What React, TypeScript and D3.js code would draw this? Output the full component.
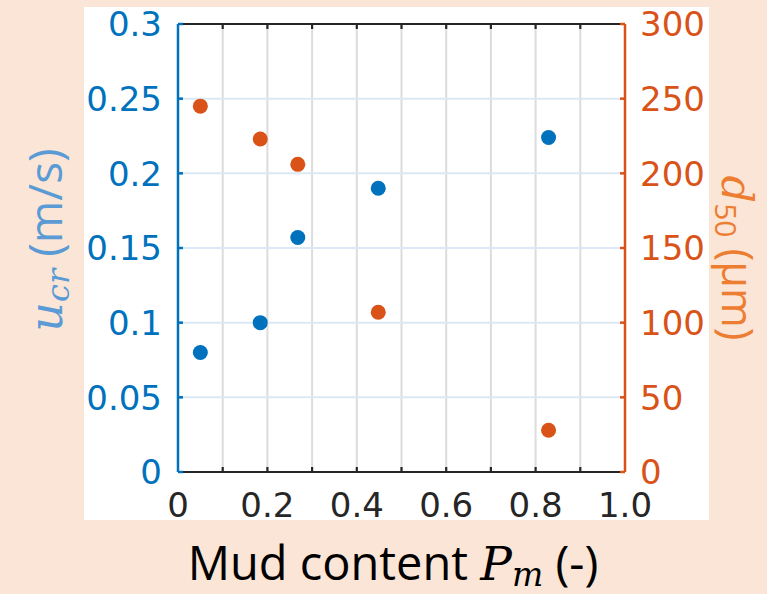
import React from "react";
import * as d3 from "d3";

const mudContent = [0.05, 0.184, 0.268, 0.448, 0.829];
const uCr = [0.08, 0.1, 0.157, 0.19, 0.224];
const d50 = [245, 223, 206, 107, 28];

const xTicks = [0, 0.2, 0.4, 0.6, 0.8, 1.0];
const xTickLabels = ["0", "0.2", "0.4", "0.6", "0.8", "1.0"];
const xMinor = d3.range(0, 11).map((i) => i / 10);
const leftTicks = [0, 0.05, 0.1, 0.15, 0.2, 0.25, 0.3];
const leftTickLabels = ["0", "0.05", "0.1", "0.15", "0.2", "0.25", "0.3"];
const rightTicks = [0, 50, 100, 150, 200, 250, 300];

const W = 767;
const H = 594;
const M = { left: 178, right: 625, top: 24, bottom: 472 };

const BLUE = "#0072BD";
const ORANGE = "#D95319";
const TICK_FONT = "'DejaVu Sans', sans-serif";

export default function App() {
  const x = d3.scaleLinear().domain([0, 1]).range([M.left, M.right]);
  const yL = d3.scaleLinear().domain([0, 0.3]).range([M.bottom, M.top]);
  const yR = d3.scaleLinear().domain([0, 300]).range([M.bottom, M.top]);
  const tl = 5;

  return (
    <svg
      width={W}
      height={H}
      style={{ position: "absolute", left: 0, top: 0, display: "block" }}
    >
      <rect x={0} y={0} width={W} height={H} fill="#FBE5D6" />
      <rect x={84} y={7} width={625} height={513} fill="#ffffff" />

      {/* grid */}
      {xMinor.slice(1, -1).map((v) => (
        <line key={"gx" + v} x1={x(v)} x2={x(v)} y1={M.top} y2={M.bottom} stroke="#dcdcdc" strokeWidth={2} />
      ))}
      {leftTicks.slice(1, -1).map((v) => (
        <line key={"gy" + v} x1={M.left} x2={M.right} y1={yL(v)} y2={yL(v)} stroke="#dae9f5" strokeWidth={2} />
      ))}

      {/* top and bottom axes */}
      <line x1={M.left} x2={M.right} y1={M.top} y2={M.top} stroke="#262626" strokeWidth={2.2} />
      <line x1={M.left} x2={M.right} y1={M.bottom} y2={M.bottom} stroke="#262626" strokeWidth={2.2} />
      {xMinor.slice(1, -1).map((v) => (
        <g key={"xt" + v}>
          <line x1={x(v)} x2={x(v)} y1={M.bottom} y2={M.bottom - tl} stroke="#262626" strokeWidth={2.2} />
          <line x1={x(v)} x2={x(v)} y1={M.top} y2={M.top + tl} stroke="#262626" strokeWidth={2.2} />
        </g>
      ))}
      {xTicks.map((v, i) => (
        <text key={"xl" + v} x={x(v)} y={517} textAnchor="middle" fontFamily={TICK_FONT} fontSize={34} fill="#262626">
          {xTickLabels[i]}
        </text>
      ))}

      {/* left axis */}
      <line x1={M.left} x2={M.left} y1={M.top} y2={M.bottom} stroke={BLUE} strokeWidth={2.5} />
      {leftTicks.map((v, i) => (
        <g key={"yl" + v}>
          <line x1={M.left} x2={M.left + tl} y1={yL(v)} y2={yL(v)} stroke={BLUE} strokeWidth={2.5} />
          <text x={162} y={yL(v)} dy="0.36em" textAnchor="end" fontFamily={TICK_FONT} fontSize={34} fill={BLUE}>
            {leftTickLabels[i]}
          </text>
        </g>
      ))}

      {/* right axis */}
      <line x1={M.right} x2={M.right} y1={M.top} y2={M.bottom} stroke={ORANGE} strokeWidth={2.5} />
      {rightTicks.map((v) => (
        <g key={"yr" + v}>
          <line x1={M.right} x2={M.right - tl} y1={yR(v)} y2={yR(v)} stroke={ORANGE} strokeWidth={2.5} />
          <text x={640} y={yR(v)} dy="0.36em" textAnchor="start" fontFamily={TICK_FONT} fontSize={34} fill={ORANGE}>
            {v}
          </text>
        </g>
      ))}

      {/* points */}
      {mudContent.map((m, i) => (
        <circle key={"u" + i} cx={x(m)} cy={yL(uCr[i])} r={7.5} fill={BLUE} />
      ))}
      {mudContent.map((m, i) => (
        <circle key={"d" + i} cx={x(m)} cy={yR(d50[i])} r={7.5} fill={ORANGE} />
      ))}

      {/* axis titles */}
      <text x={393} y={580} textAnchor="middle" fontFamily="'Open Sans', sans-serif" fontSize={47} fill="#000">
        Mud content{" "}
        <tspan fontFamily="'DejaVu Serif', serif" fontStyle="italic">P</tspan>
        <tspan fontFamily="'DejaVu Serif', serif" fontStyle="italic" fontSize={33} dy={6}>m</tspan>
        <tspan dy={-6}> (-)</tspan>
      </text>
      <text
        transform={`translate(62, 240) rotate(-90)`}
        textAnchor="middle"
        fontFamily="'Open Sans', sans-serif"
        fontSize={46}
        fill="#5B9BD5"
      >
        <tspan fontFamily="'DejaVu Serif', serif" fontStyle="italic">u</tspan>
        <tspan fontFamily="'DejaVu Serif', serif" fontStyle="italic" fontSize={32} dy={7}>cr</tspan>
        <tspan dy={-7}> (m/s)</tspan>
      </text>
      <text
        transform={`translate(722, 258) rotate(90)`}
        textAnchor="middle"
        fontFamily="'Open Sans', sans-serif"
        fontSize={43}
        fill="#ED7D31"
      >
        <tspan fontFamily="'DejaVu Serif', serif" fontStyle="italic">d</tspan>
        <tspan fontSize={30} dy={7}>50</tspan>
        <tspan dy={-7}> (μm)</tspan>
      </text>
    </svg>
  );
}
